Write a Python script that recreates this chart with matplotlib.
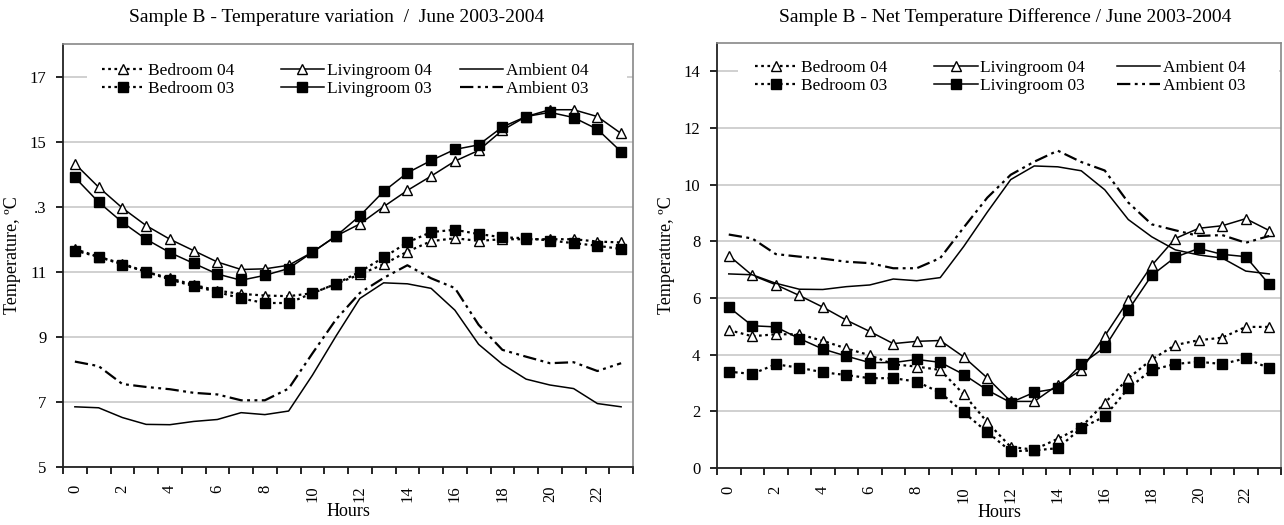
import numpy as np
import matplotlib.pyplot as plt
from matplotlib.legend import Legend
from matplotlib.patches import Rectangle
from matplotlib.ticker import FixedLocator, FixedFormatter

plt.rcParams['font.family'] = ['Liberation Serif', 'DejaVu Serif']

# =========================
# Data
# =========================
hours = np.arange(24)

# Left panel: temperatures, June 2003-2004
bed04 = [11.7, 11.46, 11.25, 11.0, 10.8, 10.6, 10.42, 10.32, 10.27, 10.25, 10.34, 10.63,
         10.92, 11.23, 11.62, 11.94, 12.03, 11.95, 12.0, 12.0, 12.0, 12.0, 11.93, 11.9]
bed03 = [11.65, 11.46, 11.22, 11.0, 10.76, 10.56, 10.38, 10.18, 10.04, 10.04, 10.34, 10.63,
         11.0, 11.44, 11.9, 12.22, 12.29, 12.16, 12.06, 12.03, 11.96, 11.88, 11.8, 11.7]
liv04 = [14.32, 13.6, 12.96, 12.42, 12.0, 11.65, 11.3, 11.07, 11.09, 11.2, 11.6, 12.1,
         12.47, 13.0, 13.5, 13.94, 14.4, 14.73, 15.35, 15.77, 15.98, 15.98, 15.77, 15.25]
liv03 = [13.9, 13.14, 12.52, 12.0, 11.59, 11.26, 10.93, 10.74, 10.89, 11.1, 11.6, 12.1,
         12.72, 13.47, 14.04, 14.42, 14.76, 14.9, 15.45, 15.77, 15.9, 15.74, 15.38, 14.69]
amb04 = [6.85, 6.82, 6.52, 6.31, 6.3, 6.4, 6.46, 6.67, 6.61, 6.72, 7.82, 9.03,
         10.18, 10.66, 10.63, 10.49, 9.82, 8.77, 8.16, 7.7, 7.52, 7.41, 6.95, 6.85]
amb03 = [8.24, 8.1, 7.55, 7.46, 7.39, 7.28, 7.23, 7.05, 7.05, 7.41, 8.49, 9.54,
         10.35, 10.81, 11.2, 10.8, 10.5, 9.37, 8.6, 8.39, 8.19, 8.22, 7.95, 8.19]

# Right panel: net temperature difference
dbed04 = [4.87, 4.65, 4.72, 4.72, 4.49, 4.22, 3.98, 3.66, 3.58, 3.46, 2.6, 1.62,
          0.74, 0.65, 1.03, 1.45, 2.29, 3.17, 3.83, 4.34, 4.51, 4.6, 4.98, 4.98]
dbed03 = [3.4, 3.32, 3.66, 3.54, 3.38, 3.28, 3.17, 3.17, 3.05, 2.66, 1.96, 1.27,
          0.59, 0.62, 0.7, 1.41, 1.82, 2.81, 3.46, 3.67, 3.75, 3.67, 3.87, 3.52]
dliv04 = [7.5, 6.8, 6.47, 6.09, 5.68, 5.22, 4.82, 4.39, 4.47, 4.5, 3.92, 3.18,
          2.35, 2.35, 2.93, 3.46, 4.66, 5.92, 7.15, 8.1, 8.46, 8.55, 8.8, 8.38]
dliv03 = [5.68, 5.02, 4.98, 4.57, 4.2, 3.95, 3.72, 3.72, 3.83, 3.73, 3.3, 2.75,
          2.31, 2.67, 2.81, 3.66, 4.26, 5.57, 6.8, 7.44, 7.75, 7.54, 7.46, 6.48]
damb04 = [6.85, 6.82, 6.52, 6.31, 6.3, 6.4, 6.46, 6.67, 6.61, 6.72, 7.82, 9.03,
          10.18, 10.66, 10.63, 10.49, 9.82, 8.77, 8.16, 7.7, 7.52, 7.41, 6.95, 6.85]
damb03 = [8.24, 8.1, 7.55, 7.46, 7.39, 7.28, 7.23, 7.05, 7.05, 7.41, 8.49, 9.54,
          10.35, 10.81, 11.2, 10.8, 10.5, 9.37, 8.6, 8.39, 8.19, 8.22, 7.95, 8.19]

left_yticks = [5, 7, 9, 11, 13, 15, 17]
left_ylabels = ["5", "7", "9", "11", ".3", "15", "17"]
right_yticks = [0, 2, 4, 6, 8, 10, 12, 14]
xtick_labels = [str(h) for h in range(0, 24, 2)]

titles = ["Sample B - Temperature variation  /  June 2003-2004",
          "Sample B - Net Temperature Difference / June 2003-2004"]


# =========================
# Plot helpers
# =========================
def draw_panel(ax, bed4, bed3, liv4, liv3, a4, a3, col_x, leg_top, cover_x):
    dot = dict(color='black', lw=1.6, dashes=(1.2, 1.6))
    h1, = ax.plot(hours, bed4, marker='^', ms=6.5, mfc='white', mec='black', mew=1,
                  label='Bedroom 04', **dot)
    h2, = ax.plot(hours, bed3, marker='s', ms=6.5, mfc='black', mec='black',
                  label='Bedroom 03', **dot)
    h3, = ax.plot(hours, liv4, color='black', lw=1.1, marker='^', ms=6.5, mfc='white',
                  mec='black', mew=1, label='Livingroom 04')
    h4, = ax.plot(hours, liv3, color='black', lw=1.1, marker='s', ms=6.5, mfc='black',
                  label='Livingroom 03')
    h5, = ax.plot(hours, a4, color='black', lw=1.1, label='Ambient 04')
    h6, = ax.plot(hours, a3, color='black', lw=1.6, dashes=(6, 2, 1.3, 2, 1.3, 2),
                  label='Ambient 03')

    ax.set_xlim(-0.5, 23.5)
    ax.xaxis.set_major_locator(FixedLocator(list(range(0, 24, 2))))
    ax.xaxis.set_major_formatter(FixedFormatter(xtick_labels))
    ax.xaxis.set_minor_locator(FixedLocator(np.arange(-0.5, 24, 1)))
    ax.tick_params(axis='x', which='major', length=0, labelsize=12, labelrotation=90, pad=13)
    ax.tick_params(axis='x', which='minor', length=5, width=1.2, direction='out')
    ax.tick_params(axis='y', length=5, width=1.2, labelsize=12, pad=7)

    ax.grid(axis='y', color='#c8c8c8', lw=1.2)
    ax.set_axisbelow(True)
    for s in ['left', 'bottom']:
        ax.spines[s].set_color('#222222')
        ax.spines[s].set_linewidth(1.3)
    for s in ['top', 'right']:
        ax.spines[s].set_color('#888888')
        ax.spines[s].set_linewidth(1.2)

    ax.set_xlabel("Hours", fontsize=13, labelpad=1)
    ax.set_ylabel("Temperature, ºC", fontsize=13, labelpad=6)

    # white legend background hiding the top gridline
    x0, x1 = cover_x
    ax.add_patch(Rectangle((x0, leg_top - 0.085), x1 - x0, 0.1, transform=ax.transAxes,
                           facecolor='white', edgecolor='none', zorder=1.5))

    # one legend block per column, like the spreadsheet layout
    pairs = [(h1, h2), (h3, h4), (h5, h6)]
    for x, (ha, hb) in zip(col_x, pairs):
        leg = Legend(ax, [ha, hb], [ha.get_label(), hb.get_label()], loc='upper left',
                     bbox_to_anchor=(x, leg_top), bbox_transform=ax.transAxes,
                     borderaxespad=0, borderpad=0, fontsize=12.5, handlelength=2.5,
                     handletextpad=0.15, labelspacing=0.1, frameon=False)
        ax.add_artist(leg)


fig = plt.figure(figsize=(12.84, 5.25), dpi=100)
ax1 = fig.add_axes([63 / 1284, 1 - 467 / 525, 570 / 1284, 423 / 525])
ax2 = fig.add_axes([717 / 1284, 1 - 468 / 525, 564 / 1284, 425 / 525])

draw_panel(ax1, bed04, bed03, liv04, liv03, amb04, amb03,
           col_x=[0.068, 0.382, 0.696], leg_top=0.955, cover_x=(0.042, 0.989))
ax1.set_ylim(5, 18)
ax1.yaxis.set_major_locator(FixedLocator(left_yticks))
ax1.yaxis.set_major_formatter(FixedFormatter(left_ylabels))

draw_panel(ax2, dbed04, dbed03, dliv04, dliv03, damb04, damb03,
           col_x=[0.067, 0.385, 0.709], leg_top=0.96, cover_x=(0.037, 0.996))
ax2.set_ylim(0, 15)
ax2.yaxis.set_major_locator(FixedLocator(right_yticks))

fig.text(337 / 1284, 1 - 17 / 525, titles[0], ha='center', va='center', fontsize=14)
fig.text(1005 / 1284, 1 - 17 / 525, titles[1], ha='center', va='center', fontsize=14)

fig.savefig("out.png", dpi=100)
